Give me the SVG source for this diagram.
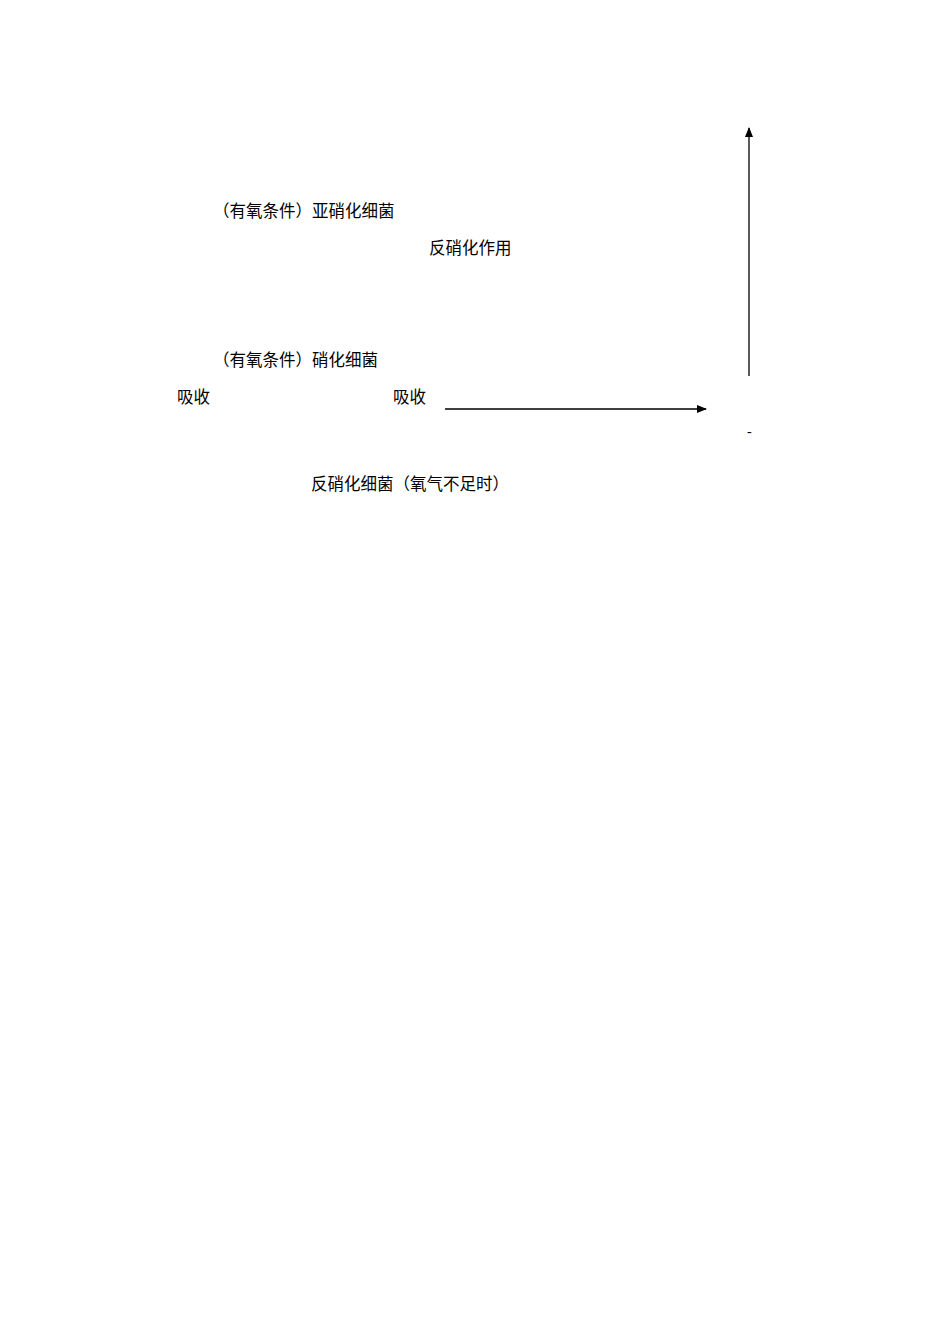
<svg xmlns="http://www.w3.org/2000/svg" width="950" height="1344" viewBox="0 0 950 1344">
<style>
text{font-family:"Noto Sans CJK SC","Liberation Serif",serif;font-size:16.5px;fill:#000}
.c{stroke:#000;stroke-width:1.3;fill:none}
</style>
<defs>
<marker id="ah" markerWidth="10" markerHeight="8" refX="9" refY="4" orient="auto" markerUnits="userSpaceOnUse">
<path d="M0,0 L10,4 L0,8 Z" fill="#000"/>
</marker>
</defs>
<rect width="950" height="1344" fill="#fff"/>
<g id="labels">
<g id="n1"><text x="213" y="217">（有氧条件）亚硝化细菌</text></g>
<g id="n2"><text x="429" y="254">反硝化作用</text></g>
<g id="n3"><text x="213" y="366">（有氧条件）硝化细菌</text></g>
<g id="n4"><text x="177" y="403">吸收</text></g>
<g id="n5"><text x="393" y="403">吸收</text></g>
<g id="n6"><text x="311" y="490">反硝化细菌（氧气不足时）</text></g>
<g id="n7"><text x="747" y="436" style="font-family:'Liberation Serif',serif;font-size:14px">-</text></g>
</g>
<g id="connectors">
<line class="c" x1="749" y1="376" x2="749" y2="128" marker-end="url(#ah)"/>
<line class="c" x1="445" y1="409" x2="706" y2="409" marker-end="url(#ah)"/>
</g>
</svg>
